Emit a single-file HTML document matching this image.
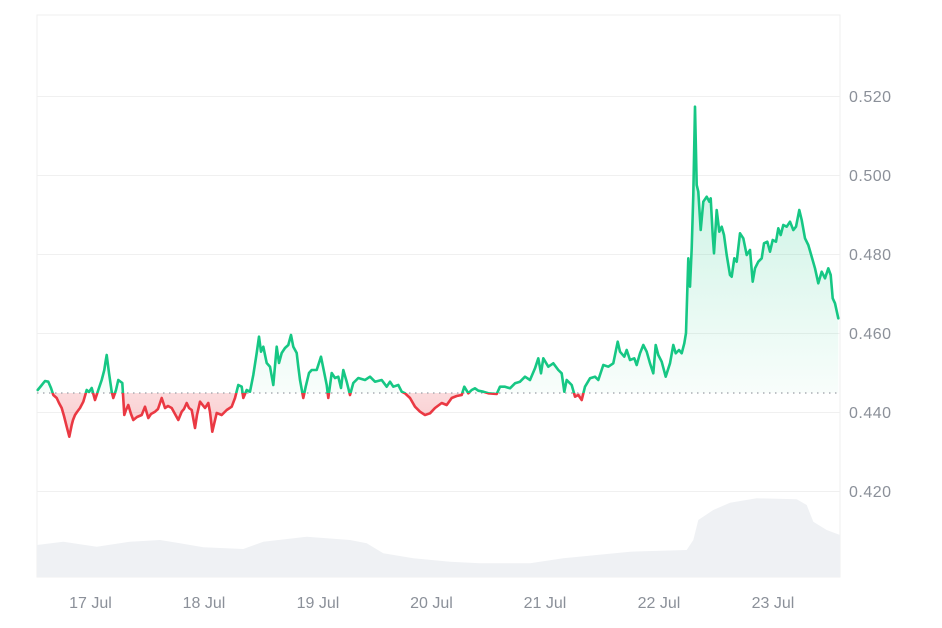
<!DOCTYPE html>
<html>
<head>
<meta charset="utf-8">
<style>
  html,body{margin:0;padding:0;background:#fff;}
  body{width:942px;height:628px;overflow:hidden;}
  svg{display:block;}
  text{font-family:"Liberation Sans",Arial,sans-serif;fill:#8b9099;}
</style>
</head>
<body>
<svg width="942" height="628" viewBox="0 0 942 628" xmlns="http://www.w3.org/2000/svg" xmlns:xlink="http://www.w3.org/1999/xlink">
  <defs>
    <linearGradient id="gG" gradientUnits="userSpaceOnUse" x1="0" y1="100" x2="0" y2="393">
      <stop offset="0" stop-color="#16c784" stop-opacity="0.28"/>
      <stop offset="1" stop-color="#16c784" stop-opacity="0.03"/>
    </linearGradient>
    <linearGradient id="gR" gradientUnits="userSpaceOnUse" x1="0" y1="393" x2="0" y2="440">
      <stop offset="0" stop-color="#ea3943" stop-opacity="0.18"/>
      <stop offset="1" stop-color="#ea3943" stop-opacity="0.28"/>
    </linearGradient>
    <clipPath id="cAbove"><rect x="0" y="0" width="942" height="393"/></clipPath>
    <clipPath id="cBelow"><rect x="0" y="393" width="942" height="235"/></clipPath>

    <polygon id="fp" points="37.7,393 37.7,390 41,386 45,381 48.3,381.7 51,388 53.3,395 56.7,398 59,403 61.7,408 64,416 66.7,426.7 69.3,436.7 71.7,425 73,420 75,415 77,412 80,408 83.3,401.7 86.7,390 89,392 91.7,388 95,400 98.3,390 101.7,380 104.3,370 105.5,362 106.7,355 109,373 111.7,391.7 113.3,398 116,390 118.3,380 122.3,383 124.3,415 126,410 128.3,405 131,414 133.3,420 137,417 141.7,415 145,406.7 148.3,418 151,414 155,411.7 158,409 161.7,398 165,408 168,406 171.7,408 175,414 178.3,420 181.7,411.7 184,409 186.7,403 189,408 191.7,410 195,428 197,415 200,401.7 205,408 208.3,403 210,412 212.3,431.7 216.7,413 221.7,415 226.7,410 231.7,406.7 235,398 238.3,385 241.7,386.7 243.3,398 246.7,390 250,391.7 253.3,375 256.7,353 259,336.7 261,351.7 263.3,346.7 266.7,363 270,366.7 273.3,385 276.7,346.7 279,363 281.7,353 285,348 288.3,345 291,335 293.3,346.7 296.7,353 298.3,366.7 300,380 303.3,398 305.7,386.7 309,373 311.7,370 316.7,370 321,356.7 324.3,373 326.7,385 328.3,398 331.7,373 335,378 338.3,376.7 341,388 343.3,370 346.7,381.7 350,395 353.3,383 358.3,378 365,380 370,376.7 375,381.7 381.7,380 386.7,386.7 390,381.7 393.3,386.7 398.3,385 401.7,391.7 405,393.3 410,398 415,406.7 420,411.7 425,415 430,413.3 435,408 441.7,403 446.7,405 451.7,398 456.7,396 461.7,395 464.3,386.7 468.3,393.3 471.7,390 475,388.3 478.3,390.7 483.3,391.7 488.3,393.3 496.7,394 500,386.7 505,386.7 510,388.3 515,383.3 520,381.7 525,376.7 530,380 535,368.3 538.3,358.3 541,373.3 543.3,358.3 548.3,366.7 553.3,363.3 558.3,370 561.7,373.3 564.3,391.7 566.7,380 571.7,385 575,396.7 578.3,395 581.7,400 585,386.7 590,378.3 595,376.7 598.3,380 603.3,365 608.3,366.7 613.3,363.3 617.7,341.7 620,351.7 624.3,356.7 626.7,350 630,360 634.3,358.3 636.7,365 640,353.3 643.3,345 646.7,351.7 650,363.3 653.3,373.3 655.7,345 658.3,355 661.7,361.7 665.7,376.7 670,363.3 673.3,345 675.7,353.3 679,350 681.7,353.3 684.3,343.3 686,333 688.3,258.3 690,286.7 691.7,248.3 693.3,195 695,106.7 696.7,185 698.3,191.7 700.7,230 703.3,201.7 706.7,196.7 709.3,201.7 710.7,198.3 712.7,235 714,253.3 716.7,210 719.3,231.7 721.7,226.7 724,235 726.7,255 730,275 731.7,276.7 734.3,258.3 736.7,261.7 740,233.3 743.3,238.3 746.7,255 750,250 752.7,281.7 755,268.3 758.3,261.7 761.7,258.3 764,243.3 767.3,241.7 770,251.7 772.7,240 776,241.7 778.3,228.3 780.7,235 783.3,225 786.7,226.7 790,221.7 793.3,230 796,226.7 799.3,210 801.7,220 805,238.3 808.3,245 811.7,256.7 815,268.3 818.3,283.3 821.7,271.7 825,278.3 828.3,268.3 830.7,275 832.7,298.3 835,303.3 838.3,318.3 838.3,393"/>

    <polyline id="pl" points="37.7,390 41,386 45,381 48.3,381.7 51,388 53.3,395 56.7,398 59,403 61.7,408 64,416 66.7,426.7 69.3,436.7 71.7,425 73,420 75,415 77,412 80,408 83.3,401.7 86.7,390 89,392 91.7,388 95,400 98.3,390 101.7,380 104.3,370 105.5,362 106.7,355 109,373 111.7,391.7 113.3,398 116,390 118.3,380 122.3,383 124.3,415 126,410 128.3,405 131,414 133.3,420 137,417 141.7,415 145,406.7 148.3,418 151,414 155,411.7 158,409 161.7,398 165,408 168,406 171.7,408 175,414 178.3,420 181.7,411.7 184,409 186.7,403 189,408 191.7,410 195,428 197,415 200,401.7 205,408 208.3,403 210,412 212.3,431.7 216.7,413 221.7,415 226.7,410 231.7,406.7 235,398 238.3,385 241.7,386.7 243.3,398 246.7,390 250,391.7 253.3,375 256.7,353 259,336.7 261,351.7 263.3,346.7 266.7,363 270,366.7 273.3,385 276.7,346.7 279,363 281.7,353 285,348 288.3,345 291,335 293.3,346.7 296.7,353 298.3,366.7 300,380 303.3,398 305.7,386.7 309,373 311.7,370 316.7,370 321,356.7 324.3,373 326.7,385 328.3,398 331.7,373 335,378 338.3,376.7 341,388 343.3,370 346.7,381.7 350,395 353.3,383 358.3,378 365,380 370,376.7 375,381.7 381.7,380 386.7,386.7 390,381.7 393.3,386.7 398.3,385 401.7,391.7 405,393.3 410,398 415,406.7 420,411.7 425,415 430,413.3 435,408 441.7,403 446.7,405 451.7,398 456.7,396 461.7,395 464.3,386.7 468.3,393.3 471.7,390 475,388.3 478.3,390.7 483.3,391.7 488.3,393.3 496.7,394 500,386.7 505,386.7 510,388.3 515,383.3 520,381.7 525,376.7 530,380 535,368.3 538.3,358.3 541,373.3 543.3,358.3 548.3,366.7 553.3,363.3 558.3,370 561.7,373.3 564.3,391.7 566.7,380 571.7,385 575,396.7 578.3,395 581.7,400 585,386.7 590,378.3 595,376.7 598.3,380 603.3,365 608.3,366.7 613.3,363.3 617.7,341.7 620,351.7 624.3,356.7 626.7,350 630,360 634.3,358.3 636.7,365 640,353.3 643.3,345 646.7,351.7 650,363.3 653.3,373.3 655.7,345 658.3,355 661.7,361.7 665.7,376.7 670,363.3 673.3,345 675.7,353.3 679,350 681.7,353.3 684.3,343.3 686,333 688.3,258.3 690,286.7 691.7,248.3 693.3,195 695,106.7 696.7,185 698.3,191.7 700.7,230 703.3,201.7 706.7,196.7 709.3,201.7 710.7,198.3 712.7,235 714,253.3 716.7,210 719.3,231.7 721.7,226.7 724,235 726.7,255 730,275 731.7,276.7 734.3,258.3 736.7,261.7 740,233.3 743.3,238.3 746.7,255 750,250 752.7,281.7 755,268.3 758.3,261.7 761.7,258.3 764,243.3 767.3,241.7 770,251.7 772.7,240 776,241.7 778.3,228.3 780.7,235 783.3,225 786.7,226.7 790,221.7 793.3,230 796,226.7 799.3,210 801.7,220 805,238.3 808.3,245 811.7,256.7 815,268.3 818.3,283.3 821.7,271.7 825,278.3 828.3,268.3 830.7,275 832.7,298.3 835,303.3 838.3,318.3"/>
  </defs>

  <!-- frame -->
  <rect x="37" y="15" width="803" height="562" fill="#fff" stroke="#efefef" stroke-width="1"/>

  <!-- grid lines -->
  <g stroke="#f0f0f0" stroke-width="1">
    <line x1="37" y1="96.5" x2="840" y2="96.5"/>
    <line x1="37" y1="175.5" x2="840" y2="175.5"/>
    <line x1="37" y1="254.5" x2="840" y2="254.5"/>
    <line x1="37" y1="333.5" x2="840" y2="333.5"/>
    <line x1="37" y1="412.5" x2="840" y2="412.5"/>
    <line x1="37" y1="491.5" x2="840" y2="491.5"/>
  </g>

  <!-- volume -->
  <polygon fill="#eff1f4" points="37,545 63.3,541.7 96.7,546.7 130,541.7 160,540 180,543.3 203.3,547.3 243.3,549 263.3,541.7 306.7,536.7 350,540 366.7,543.3 383.3,553.3 413.3,558.3 450,561.7 480,563.3 530,563.3 563.3,558.3 630,551.7 686.7,550 693.3,540 698.3,520 713.3,510 730,502.7 756.7,498.3 796.7,499.3 806.7,505 813.3,521.7 826.7,530 840,535 840,577 37,577"/>

  <!-- fills -->
  <g clip-path="url(#cAbove)"><use xlink:href="#fp" href="#fp" fill="url(#gG)"/></g>
  <g clip-path="url(#cBelow)"><use xlink:href="#fp" href="#fp" fill="url(#gR)"/></g>

  <!-- baseline dotted -->
  <line x1="37" y1="393" x2="840" y2="393" stroke="#9a9ea6" stroke-width="1.3" stroke-dasharray="1.5 4.5"/>

  <!-- price line -->
  <g fill="none" stroke-width="2.6" stroke-linejoin="round" stroke-linecap="round">
    <g clip-path="url(#cAbove)"><use xlink:href="#pl" href="#pl" stroke="#16c784"/></g>
    <g clip-path="url(#cBelow)"><use xlink:href="#pl" href="#pl" stroke="#ea3943"/></g>
  </g>

  <!-- y labels -->
  <g font-size="16" letter-spacing="0.5">
    <text x="849" y="102">0.520</text>
    <text x="849" y="181">0.500</text>
    <text x="849" y="260">0.480</text>
    <text x="849" y="339">0.460</text>
    <text x="849" y="418">0.440</text>
    <text x="849" y="497">0.420</text>
  </g>

  <!-- x labels -->
  <g font-size="16" text-anchor="middle">
    <text x="90.5" y="608">17 Jul</text>
    <text x="204" y="608">18 Jul</text>
    <text x="318" y="608">19 Jul</text>
    <text x="431.5" y="608">20 Jul</text>
    <text x="545" y="608">21 Jul</text>
    <text x="659" y="608">22 Jul</text>
    <text x="773" y="608">23 Jul</text>
  </g>
</svg>
</body>
</html>
